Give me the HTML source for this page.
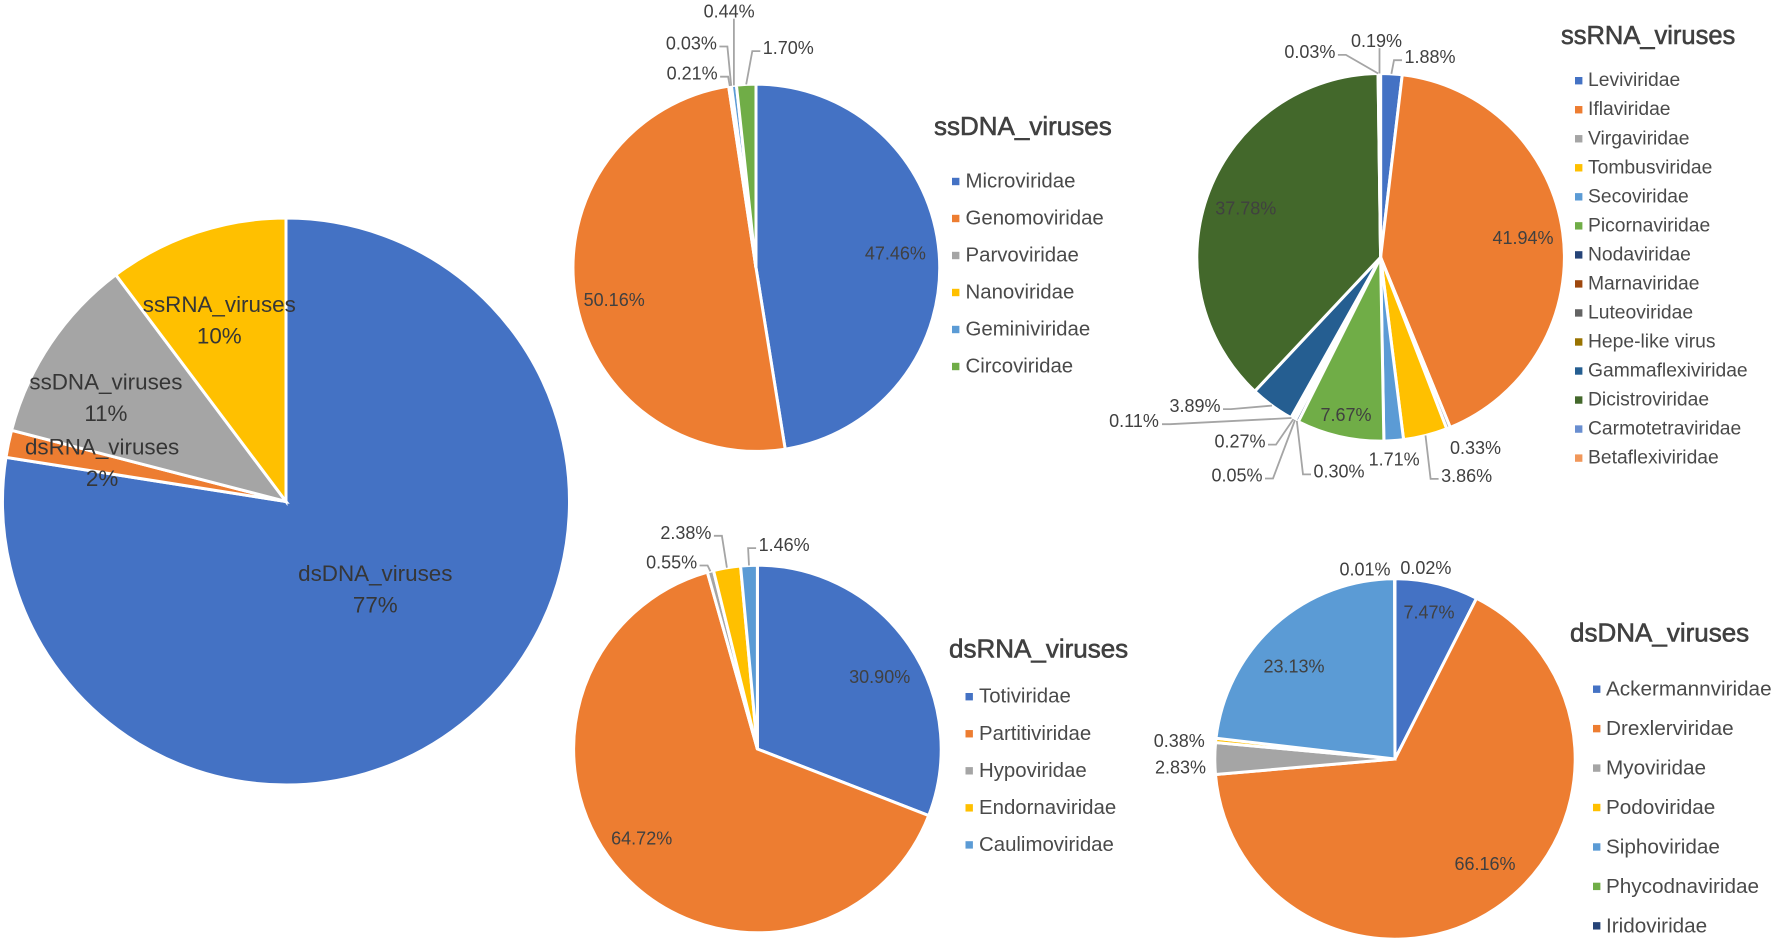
<!DOCTYPE html>
<html lang="en">
<head>
<meta charset="utf-8">
<title>Virus family composition pie charts</title>
<style>
  html, body { margin: 0; padding: 0; background: #ffffff; }
  svg { display: block; font-family: "Liberation Sans", "Noto Sans CJK SC", sans-serif; }
  .title { fill: #404040; stroke: #404040; stroke-width: 0.6px; }
  .legend { fill: #4a4a4a; }
  .value { font-size: 18px; fill: #404040; text-anchor: middle; dominant-baseline: central; }
  .overview { font-size: 22.4px; fill: #363636; text-anchor: middle; dominant-baseline: central; }
</style>
</head>
<body>
<svg id="figure" xmlns="http://www.w3.org/2000/svg" width="1772" height="942" viewBox="0 0 1772 942"></svg>
<script>
// ---------- Data ----------
const overviewCategories = ["dsDNA_viruses", "dsRNA_viruses", "ssDNA_viruses", "ssRNA_viruses"];
const overviewValues = [77.49, 1.55, 10.71, 10.25];

const ssdnaCategories = ["Microviridae", "Genomoviridae", "Parvoviridae", "Nanoviridae", "Geminiviridae", "Circoviridae"];
const ssdnaValues = [47.46, 50.16, 0.21, 0.03, 0.44, 1.70];

const ssrnaCategories = ["Leviviridae", "Iflaviridae", "Virgaviridae", "Tombusviridae", "Secoviridae", "Picornaviridae", "Nodaviridae", "Marnaviridae", "Luteoviridae", "Hepe-like virus", "Gammaflexiviridae", "Dicistroviridae", "Carmotetraviridae", "Betaflexiviridae"];
const ssrnaValues = [1.88, 41.94, 0.33, 3.86, 1.71, 7.67, 0.30, 0.05, 0.27, 0.11, 3.89, 37.78, 0.03, 0.19];

const dsrnaCategories = ["Totiviridae", "Partitiviridae", "Hypoviridae", "Endornaviridae", "Caulimoviridae"];
const dsrnaValues = [30.90, 64.72, 0.55, 2.38, 1.46];

const dsdnaCategories = ["Ackermannviridae", "Drexlerviridae", "Myoviridae", "Podoviridae", "Siphoviridae", "Phycodnaviridae", "Iridoviridae"];
const dsdnaValues = [7.47, 66.16, 2.83, 0.38, 23.13, 0.01, 0.02];

// ---------- Styling / layout (not data) ----------
const palette = ["#4472C4", "#ED7D31", "#A5A5A5", "#FFC000", "#5B9BD5", "#70AD47", "#264478", "#9E480E", "#636363", "#997300", "#255E91", "#43682B", "#698ED0", "#F1975A"];

// Label placement relative to each slice's rim point: [dx, dy, leader]
// leader: 0 none, -1 leaves label's left edge, 1 right edge, 2 bottom edge
const overviewPlacement = [[-93.8, -126.8, 0], [92, 18.5, 0], [54, 53, 0], [22.5, 86, 0]];
const ssdnaPlacement = [[-42, 0, 0], [38, 4, 0], [-38, -14, 1], [-40, -44, 1], [-5, -75.4, 2], [42, -38, -1]];
const ssrnaPlacement = [[38.7, -18.3, -1], [-38, 5.5, 0], [27.7, 21.5, 0], [41.5, 42, -1], [0.5, 20.8, 0], [5.7, -20, 0], [41.4, 52, -1], [-58.8, 57, 1], [-54.2, 24, 1], [-158.3, 4.7, 1], [-78, 1.9, 1], [35, 17, 0], [-68.4, -23.3, 1], [-3, -34, 2]];
const dsrnaPlacement = [[-28, 30.7, 0], [19, -33, 0], [-39.2, -10.5, 1], [-41.3, -36.6, 1], [35, -22, -1]];
const dsdnaPlacement = [[-7.5, 27.3, 0], [-9.9, -43, 0], [-36, 9.2, 0], [-38.2, 0.5, 0], [17.8, 40.9, 0], [-29.7, -11.2, 0], [31, -12.5, 0]];

const svg = document.getElementById("figure");
const NS = "http://www.w3.org/2000/svg";

function make(tag, attrs, parent) {
  const el = document.createElementNS(NS, tag);
  for (const k in attrs) el.setAttribute(k, attrs[k]);
  parent.appendChild(el);
  return el;
}
function slug(s) {
  return s.toLowerCase().replace(/[^a-z0-9]+/g, "-").replace(/^-|-$/g, "");
}
function polar(cx, cy, r, deg) {
  const a = deg * Math.PI / 180;
  return [cx + r * Math.sin(a), cy - r * Math.cos(a)];
}

function drawPie(cfg) {
  const group = make("g", {}, svg);
  
  

  const total = cfg.values.reduce((a, b) => a + b, 0);
  const toAngle = v => v / total * 360;
  const overlays = [];
  let start = 0;

  cfg.values.forEach((value, i) => {
    const sweep = toAngle(value);
    const end = start + sweep;
    const mid = start + sweep / 2;
    const p0 = polar(cfg.cx, cfg.cy, cfg.r, start);
    const p1 = polar(cfg.cx, cfg.cy, cfg.r, end);
    const large = sweep > 180 ? 1 : 0;
    const slice = make("path", {
      d: `M${cfg.cx} ${cfg.cy}L${p0[0].toFixed(2)} ${p0[1].toFixed(2)}A${cfg.r} ${cfg.r} 0 ${large} 1 ${p1[0].toFixed(2)} ${p1[1].toFixed(2)}Z`,
      fill: palette[i],
      stroke: "#ffffff",
      "stroke-width": 3,
      "stroke-linejoin": "miter"
    }, group);
    
    
    overlays.push({ i, value, mid });
    start = end;
  });

  overlays.forEach(({ i, value, mid }) => {
    const place = cfg.placement[i];
    const rim = polar(cfg.cx, cfg.cy, cfg.r - 1.7, mid);
    const lx = rim[0] + place[0];
    const ly = rim[1] + place[1];
    const side = place[2];
    const tip = polar(cfg.cx, cfg.cy, cfg.r, mid);

    if (side !== 0) {
      let d;
      if (side === 2) {
        d = `M${tip[0].toFixed(1)} ${(ly + 7).toFixed(1)}L${tip[0].toFixed(1)} ${tip[1].toFixed(1)}`;
      } else {
        const sx = lx + side * 28;
        const ey = ly + 3;
        d = `M${sx.toFixed(1)} ${ey.toFixed(1)}L${(sx + side * 8).toFixed(1)} ${ey.toFixed(1)}L${tip[0].toFixed(1)} ${tip[1].toFixed(1)}`;
      }
      const leader = make("path", { d, fill: "none", stroke: "#a5a5a5", "stroke-width": 1.8 }, group);
      
      
    }

    if (cfg.overview) {
      const nameLabel = make("text", { class: "overview", x: lx.toFixed(1), y: (ly - 15.5).toFixed(1) }, group);
      nameLabel.textContent = cfg.categories[i];
      
      
      const pctLabel = make("text", { class: "overview", x: lx.toFixed(1), y: (ly + 16).toFixed(1) }, group);
      pctLabel.textContent = value.toFixed(0) + "%";
      
      
    } else {
      const label = make("text", { class: "value", x: lx.toFixed(1), y: ly.toFixed(1) }, group);
      label.textContent = value.toFixed(2) + "%";
      
      
    }
  });

  if (cfg.title) {
    const title = make("text", { class: "title", x: cfg.title.x, y: cfg.title.y, "font-size": cfg.title.size, "dominant-baseline": "central" }, group);
    title.textContent = cfg.title.text;
    
    
  }

  if (cfg.legend) {
    const lg = cfg.legend;
    cfg.categories.forEach((name, i) => {
      const y = lg.y + i * lg.step;
      const entry = make("g", {}, group);
      
      
      const swatch = make("rect", { x: lg.x, y: y - 3.7, width: 7.4, height: 7.4, fill: palette[i] }, entry);
      
      
      const text = make("text", { class: "legend", x: lg.tx, y: y, "font-size": lg.size, "dominant-baseline": "central" }, entry);
      text.textContent = name;
      
      
    });
  }
}

drawPie({ key: "overview", overview: true, categories: overviewCategories, values: overviewValues, placement: overviewPlacement, cx: 286, cy: 501.5, r: 283.5 });

drawPie({ key: "ssdna-viruses", categories: ssdnaCategories, values: ssdnaValues, placement: ssdnaPlacement, cx: 756, cy: 267.8, r: 183.7,
  title: { text: "ssDNA_viruses", x: 934, y: 126, size: 26 }, legend: { x: 952, tx: 965.5, y: 181.5, step: 37, size: 20.4 } });

drawPie({ key: "ssrna-viruses", categories: ssrnaCategories, values: ssrnaValues, placement: ssrnaPlacement, cx: 1380.6, cy: 257.3, r: 183.8,
  title: { text: "ssRNA_viruses", x: 1561, y: 36, size: 25.5 }, legend: { x: 1575, tx: 1588, y: 80.7, step: 29.03, size: 19.3 } });

drawPie({ key: "dsrna-viruses", categories: dsrnaCategories, values: dsrnaValues, placement: dsrnaPlacement, cx: 757.4, cy: 749, r: 183.8,
  title: { text: "dsRNA_viruses", x: 949, y: 648.7, size: 26 }, legend: { x: 965.5, tx: 979, y: 696.7, step: 37.05, size: 20.4 } });

drawPie({ key: "dsdna-viruses", categories: dsdnaCategories, values: dsdnaValues, placement: dsdnaPlacement, cx: 1395, cy: 759, r: 180.2,
  title: { text: "dsDNA_viruses", x: 1570, y: 632.7, size: 26 }, legend: { x: 1593, tx: 1606, y: 689.2, step: 39.44, size: 20.7 } });
</script>
</body>
</html>
